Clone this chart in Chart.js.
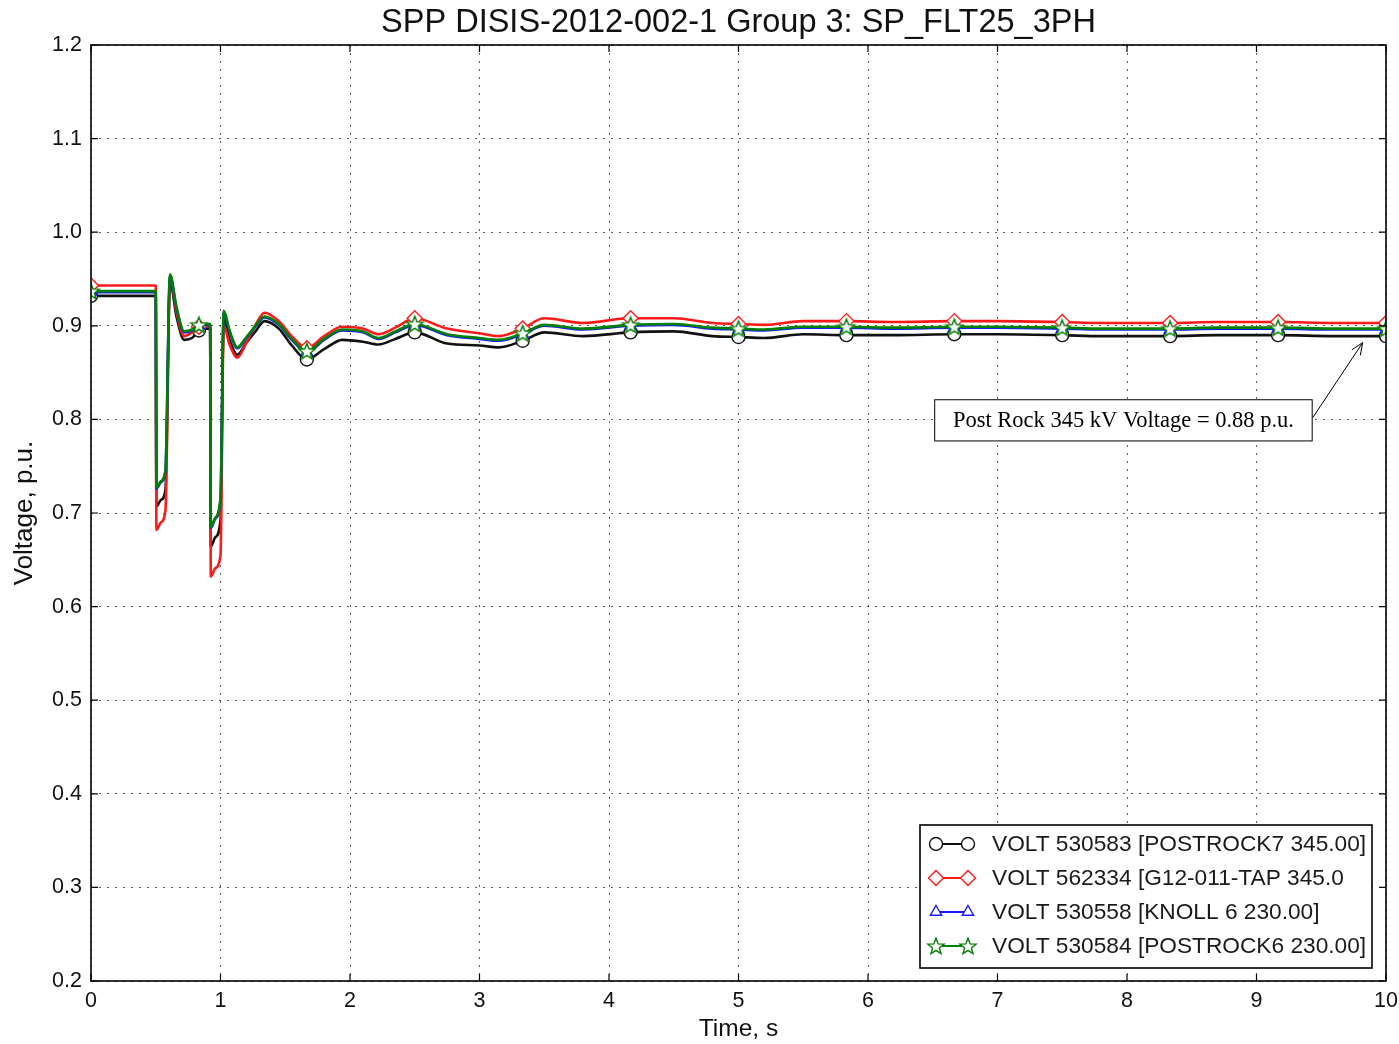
<!DOCTYPE html>
<html><head><meta charset="utf-8">
<script src="https://cdn.jsdelivr.net/npm/chart.js@4.4.1/dist/chart.umd.min.js"></script>
<style>html,body{margin:0;padding:0;background:#fff;} canvas{display:block;}</style>
</head><body>
<canvas id="c" width="1399" height="1044"></canvas>
<script>
// ---- data ----
const chartTitle = 'SPP DISIS-2012-002-1 Group 3: SP_FLT25_3PH';
const xTitle = 'Time, s';
const yTitle = 'Voltage, p.u.';
const seriesNames = [
  'VOLT 530583 [POSTROCK7 345.00]',
  'VOLT 562334 [G12-011-TAP 345.0',
  'VOLT 530558 [KNOLL 6 230.00]',
  'VOLT 530584 [POSTROCK6 230.00]'
];
const timeS = [0, 0.5, 0.505, 0.54, 0.575, 0.61, 0.66, 0.72, 0.78, 0.8333, 0.88, 0.92, 0.925, 0.96, 1.0, 1.025, 1.07, 1.13, 1.2, 1.27, 1.34, 1.45, 1.55, 1.6667, 1.8, 1.94, 2.1, 2.22, 2.35, 2.5, 2.75, 3.0, 3.15, 3.3333, 3.5, 3.8, 4.1667, 4.5, 4.8, 5.0, 5.2, 5.5, 5.8333, 6.2, 6.6667, 7.0, 7.5, 7.8, 8.3333, 8.7, 9.1667, 9.6, 10];
const voltPostrock7 = [0.932, 0.932, 0.707, 0.714, 0.725, 0.947, 0.910, 0.885, 0.887, 0.895, 0.897, 0.897, 0.664, 0.674, 0.692, 0.908, 0.885, 0.869, 0.882, 0.894, 0.905, 0.897, 0.879, 0.864, 0.875, 0.885, 0.883, 0.880, 0.886, 0.893, 0.881, 0.879, 0.877, 0.884, 0.893, 0.889, 0.893, 0.894, 0.889, 0.888, 0.887, 0.891, 0.890, 0.890, 0.891, 0.891, 0.890, 0.889, 0.889, 0.890, 0.890, 0.889, 0.889];
const voltG12Tap = [0.943, 0.943, 0.682, 0.690, 0.703, 0.952, 0.915, 0.889, 0.893, 0.899, 0.900, 0.900, 0.632, 0.641, 0.655, 0.900, 0.880, 0.866, 0.882, 0.901, 0.914, 0.905, 0.889, 0.876, 0.889, 0.899, 0.897, 0.891, 0.898, 0.908, 0.897, 0.892, 0.889, 0.897, 0.908, 0.903, 0.908, 0.908, 0.903, 0.902, 0.901, 0.905, 0.905, 0.904, 0.905, 0.905, 0.904, 0.903, 0.903, 0.904, 0.904, 0.903, 0.903];
const voltKnoll6 = [0.936, 0.936, 0.726, 0.733, 0.745, 0.954, 0.919, 0.893, 0.895, 0.900, 0.901, 0.901, 0.684, 0.694, 0.715, 0.915, 0.894, 0.876, 0.887, 0.899, 0.909, 0.901, 0.885, 0.872, 0.885, 0.895, 0.893, 0.886, 0.893, 0.901, 0.890, 0.886, 0.884, 0.891, 0.900, 0.896, 0.900, 0.901, 0.897, 0.896, 0.895, 0.898, 0.898, 0.897, 0.898, 0.898, 0.897, 0.896, 0.896, 0.897, 0.897, 0.896, 0.896];
const voltPostrock6 = [0.937, 0.937, 0.727, 0.734, 0.746, 0.955, 0.920, 0.894, 0.896, 0.901, 0.902, 0.902, 0.685, 0.695, 0.716, 0.916, 0.895, 0.877, 0.888, 0.900, 0.910, 0.902, 0.886, 0.873, 0.886, 0.896, 0.894, 0.887, 0.894, 0.902, 0.891, 0.887, 0.885, 0.892, 0.901, 0.897, 0.901, 0.902, 0.898, 0.897, 0.896, 0.899, 0.899, 0.898, 0.899, 0.899, 0.898, 0.897, 0.897, 0.898, 0.898, 0.897, 0.897];
const markerTimes = [0, 0.8333, 1.6667, 2.5, 3.3333, 4.1667, 5.0, 5.8333, 6.6667, 7.5, 8.3333, 9.1667, 10];
const xTickValues = [0, 1, 2, 3, 4, 5, 6, 7, 8, 9, 10];
const yTickValues = [0.2, 0.3, 0.4, 0.5, 0.6, 0.7, 0.8, 0.9, 1.0, 1.1, 1.2];
const annotationText = 'Post Rock 345 kV Voltage = 0.88 p.u.';
const annotationBox = {t0: 6.515, t1: 9.43, vTop: 0.821, vBottom: 0.777};
const annotationArrow = {tFrom: 9.435, vFrom: 0.802, tTo: 9.82, vTo: 0.882};

// ---- styling ----
const SANS = '"Liberation Sans", Arial, Helvetica, sans-serif';
const SERIF = '"Liberation Serif", "Times New Roman", serif';
const colors = ['#111111', '#ff1a1a', '#1a1aff', '#008000'];

function makeStar(color) {
  const c = document.createElement('canvas');
  c.width = c.height = 20;
  const g = c.getContext('2d');
  g.beginPath();
  for (let k = 0; k < 10; k++) {
    const r = k % 2 ? 3.6 : 8.5;
    const a = -Math.PI / 2 + k * Math.PI / 5;
    g.lineTo(10 + r * Math.cos(a), 10.8 + r * Math.sin(a));
  }
  g.closePath();
  g.fillStyle = '#fff'; g.fill();
  g.strokeStyle = color; g.lineWidth = 1.4; g.stroke();
  return c;
}
const starImg = makeStar(colors[3]);
const pointStyles = ['circle', 'rectRot', 'triangle', starImg];
const pointSizes = [6.5, 7.5, 6.5, 8];

const isMarker = t => markerTimes.some(m => Math.abs(m - t) < 1e-3);
const valueSets = [voltPostrock7, voltG12Tap, voltKnoll6, voltPostrock6];
const orders = [4, 3, 2, 1];

const datasets = valueSets.map((vals, i) => ({
  label: seriesNames[i],
  data: timeS.map((t, k) => ({x: t, y: vals[k]})),
  borderColor: colors[i],
  backgroundColor: colors[i],
  borderWidth: 2.6,
  pointStyle: pointStyles[i],
  pointRadius: ctx => (ctx.raw && isMarker(ctx.raw.x)) ? pointSizes[i] : 0,
  pointBorderColor: colors[i],
  pointBackgroundColor: '#ffffff',
  pointBorderWidth: 1.4,
  cubicInterpolationMode: 'monotone',
  order: orders[i]
}));

const bgPlugin = {
  id: 'bg',
  beforeDraw(chart) {
    const ctx = chart.ctx;
    ctx.save(); ctx.fillStyle = '#fff'; ctx.fillRect(0, 0, chart.width, chart.height); ctx.restore();
  }
};

const framePlugin = {
  id: 'frame',
  afterDraw(chart) {
    const {ctx, chartArea: a, scales} = chart;
    ctx.save();
    ctx.strokeStyle = '#000';
    ctx.lineWidth = 1.6;
    ctx.strokeRect(a.left, a.top, a.right - a.left, a.bottom - a.top);
    ctx.lineWidth = 1.2;
    const L = 7;
    ctx.beginPath();
    scales.y.ticks.forEach(tk => {
      const y = scales.y.getPixelForValue(tk.value);
      ctx.moveTo(a.left, y); ctx.lineTo(a.left + L, y);
      ctx.moveTo(a.right, y); ctx.lineTo(a.right - L, y);
    });
    scales.x.ticks.forEach(tk => {
      const x = scales.x.getPixelForValue(tk.value);
      ctx.moveTo(x, a.bottom); ctx.lineTo(x, a.bottom - L);
      ctx.moveTo(x, a.top); ctx.lineTo(x, a.top + L);
    });
    ctx.stroke();

    // annotation box + arrow
    const x0 = scales.x.getPixelForValue(annotationBox.t0);
    const x1 = scales.x.getPixelForValue(annotationBox.t1);
    const y0 = scales.y.getPixelForValue(annotationBox.vTop);
    const y1 = scales.y.getPixelForValue(annotationBox.vBottom);
    ctx.fillStyle = '#fff';
    ctx.fillRect(x0, y0, x1 - x0, y1 - y0);
    ctx.lineWidth = 1;
    ctx.strokeStyle = '#000';
    ctx.strokeRect(x0, y0, x1 - x0, y1 - y0);
    ctx.fillStyle = '#000';
    ctx.font = '22.5px ' + SERIF;
    ctx.textAlign = 'center';
    ctx.textBaseline = 'middle';
    ctx.fillText(annotationText, (x0 + x1) / 2, (y0 + y1) / 2 + 1);
    const ax0 = scales.x.getPixelForValue(annotationArrow.tFrom);
    const ay0 = scales.y.getPixelForValue(annotationArrow.vFrom);
    const ax1 = scales.x.getPixelForValue(annotationArrow.tTo);
    const ay1 = scales.y.getPixelForValue(annotationArrow.vTo);
    ctx.beginPath();
    ctx.moveTo(ax0, ay0); ctx.lineTo(ax1, ay1);
    const ang = Math.atan2(ay1 - ay0, ax1 - ax0);
    const hl = 13, hw = 0.4;
    ctx.moveTo(ax1 - hl * Math.cos(ang - hw), ay1 - hl * Math.sin(ang - hw));
    ctx.lineTo(ax1, ay1);
    ctx.lineTo(ax1 - hl * Math.cos(ang + hw), ay1 - hl * Math.sin(ang + hw));
    ctx.stroke();

    // legend
    const right = a.right - 14, bottom = a.bottom - 13;
    const w = 452, h = 143;
    const left = right - w, top = bottom - h;
    ctx.fillStyle = '#fff';
    ctx.fillRect(left, top, w, h);
    ctx.lineWidth = 1.6;
    ctx.strokeStyle = '#000';
    ctx.strokeRect(left, top, w, h);
    ctx.textAlign = 'left';
    ctx.textBaseline = 'middle';
    ctx.font = '22.7px ' + SANS;
    chart.data.datasets.forEach((d, i) => {
      const y = top + 19 + i * 34;
      const lx0 = left + 16, lx1 = left + 48;
      ctx.strokeStyle = d.borderColor;
      ctx.lineWidth = 2;
      ctx.beginPath(); ctx.moveTo(lx0, y); ctx.lineTo(lx1, y); ctx.stroke();
      ctx.fillStyle = '#fff';
      ctx.lineWidth = 1.4;
      const opts = {pointStyle: d.pointStyle, radius: pointSizes[i], rotation: 0, borderWidth: 1.4};
      Chart.helpers.drawPoint(ctx, opts, lx0, y);
      Chart.helpers.drawPoint(ctx, opts, lx1, y);
      ctx.fillStyle = '#1a1a1a';
      ctx.fillText(d.label, left + 72, y + 1);
    });
    ctx.restore();
  }
};

new Chart(document.getElementById('c'), {
  type: 'line',
  data: {datasets},
  options: {
    responsive: false,
    animation: false,
    events: [],
    layout: {padding: {left: 0, right: 13, top: 0, bottom: 0}},
    plugins: {
      legend: {display: false},
      tooltip: {enabled: false},
      title: {
        display: true, text: chartTitle, fullSize: false,
        font: {size: 32.5, family: SANS, weight: 'normal'}, color: '#111',
        padding: {top: 4, bottom: 2}
      }
    },
    scales: {
      x: {
        type: 'linear', min: 0, max: 10,
        afterBuildTicks: s => { s.ticks = xTickValues.map(v => ({value: v})); },
        ticks: {font: {size: 21.5, family: SANS}, color: '#111', padding: 7, maxRotation: 0, autoSkip: false,
                callback: v => String(v)},
        grid: {color: 'rgba(40,40,40,0.75)', lineWidth: 1, drawTicks: false},
        border: {display: false, dash: [2, 6]},
        title: {display: true, text: xTitle, font: {size: 24.5, family: SANS}, color: '#111', padding: {top: 0, bottom: 0}},
        afterFit: s => { s.height = 63; s.paddingLeft = 0; s.paddingRight = 0; }
      },
      y: {
        type: 'linear', min: 0.2, max: 1.2,
        afterBuildTicks: s => { s.ticks = yTickValues.map(v => ({value: v})); },
        ticks: {font: {size: 21.5, family: SANS}, color: '#111', padding: 9, autoSkip: false,
                callback: v => Number(v).toFixed(1)},
        grid: {color: 'rgba(40,40,40,0.75)', lineWidth: 1, drawTicks: false},
        border: {display: false, dash: [2, 6]},
        title: {display: true, text: yTitle, font: {size: 26, family: SANS}, color: '#111', padding: {top: 9, bottom: 0}},
        afterFit: s => { s.width = 91; s.paddingTop = 0; s.paddingBottom = 0; }
      }
    }
  },
  plugins: [bgPlugin, framePlugin]
});
</script>
</body></html>
